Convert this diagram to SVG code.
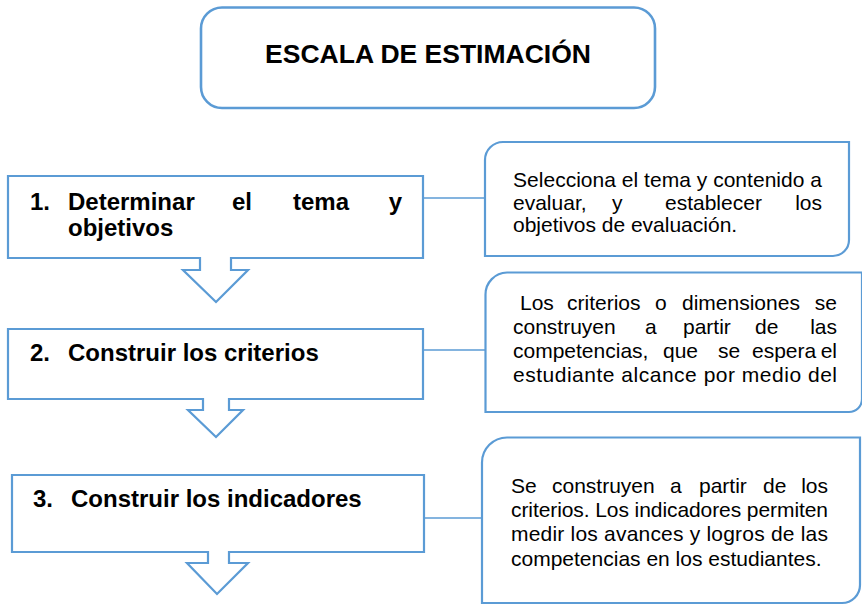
<svg xmlns="http://www.w3.org/2000/svg" width="862" height="606" viewBox="0 0 862 606">
<style>
.shape{fill:#ffffff;stroke:#5B9BD5;stroke-width:2.2;stroke-linejoin:miter}
.conn{stroke:#5B9BD5;stroke-width:1.4;fill:none}
.title{font-family:"Liberation Sans",Arial,sans-serif;font-weight:bold;font-size:26.5px;fill:#000}
.step{font-family:"Liberation Sans",Arial,sans-serif;font-weight:bold;font-size:24px;fill:#000}
.note{font-family:"Liberation Sans",Arial,sans-serif;font-size:21px;fill:#000}
</style>
<rect width="862" height="606" fill="#ffffff"/>
<g id="connectors">
<line class="conn" x1="423" y1="198" x2="485" y2="198"/>
<line class="conn" x1="423" y1="350" x2="485" y2="350"/>
<line class="conn" x1="424" y1="518" x2="481" y2="518"/>
</g>
<g id="title">
<rect class="shape" x="201" y="7.5" width="454" height="100.5" rx="21" ry="21" style="stroke-width:2.6"/>
<text class="title" x="428" y="63" text-anchor="middle">ESCALA DE ESTIMACIÓN</text>
</g>
<g id="step1">
<path class="shape" d="M8,176 H423 V258 H231 V270 H248 L216,302 L183,270 H200 V258 H8 Z"/>
<text class="step" y="210"><tspan x="30">1.</tspan><tspan x="68">Determinar</tspan><tspan x="232">el</tspan><tspan x="293">tema</tspan><tspan x="402" text-anchor="end">y</tspan></text>
<text class="step" x="68" y="236">objetivos</text>
</g>
<g id="step2">
<path class="shape" d="M8,329 H423 V399 H229 V410 H243 L216,437 L188,410 H203 V399 H8 Z"/>
<text class="step" y="361"><tspan x="30">2.</tspan><tspan x="68">Construir los criterios</tspan></text>
</g>
<g id="step3">
<path class="shape" d="M12,475 H424 V552 H229 V563 H248 L217,594 L187,563 H208 V552 H12 Z"/>
<text class="step" y="507"><tspan x="33">3.</tspan><tspan x="71">Construir los indicadores</tspan></text>
</g>
<g id="note1">
<path class="shape" d="M503,142 H849 V240 A16,16 0 0 1 833,256 H485 V160 A18,18 0 0 1 503,142 Z"/>
<text class="note" x="513" y="187" textLength="309" lengthAdjust="spacing">Selecciona el tema y contenido a</text>
<text class="note" y="210"><tspan x="513">evaluar,</tspan><tspan x="612">y</tspan><tspan x="665">establecer</tspan><tspan x="822" text-anchor="end">los</tspan></text>
<text class="note" x="513" y="232">objetivos de evaluación.</text>
</g>
<g id="note2">
<path class="shape" d="M507,272.5 H862 V399 A13,13 0 0 1 849,412 H485.5 V294.5 A22,22 0 0 1 507,272.5 Z"/>
<text class="note" y="310"><tspan x="520">Los</tspan><tspan x="567">criterios</tspan><tspan x="655">o</tspan><tspan x="682">dimensiones</tspan><tspan x="837" text-anchor="end">se</tspan></text>
<text class="note" y="334"><tspan x="513">construyen</tspan><tspan x="645">a</tspan><tspan x="683">partir</tspan><tspan x="755">de</tspan><tspan x="837" text-anchor="end">las</tspan></text>
<text class="note" y="358"><tspan x="513">competencias,</tspan><tspan x="663">que</tspan><tspan x="718">se</tspan><tspan x="752">espera</tspan><tspan x="837" text-anchor="end">el</tspan></text>
<text class="note" x="513" y="382" textLength="324" lengthAdjust="spacing">estudiante alcance por medio del</text>
</g>
<g id="note3">
<path class="shape" d="M507,437.5 H860 V585 A18,18 0 0 1 842,603 H482 V462.5 A25,25 0 0 1 507,437.5 Z"/>
<text class="note" y="493"><tspan x="511">Se</tspan><tspan x="552">construyen</tspan><tspan x="670">a</tspan><tspan x="699">partir</tspan><tspan x="763">de</tspan><tspan x="828" text-anchor="end">los</tspan></text>
<text class="note" x="511" y="517" textLength="317" lengthAdjust="spacing">criterios. Los indicadores permiten</text>
<text class="note" x="511" y="541" textLength="317" lengthAdjust="spacing">medir los avances y logros de las</text>
<text class="note" x="511" y="566">competencias en los estudiantes.</text>
</g>
</svg>
